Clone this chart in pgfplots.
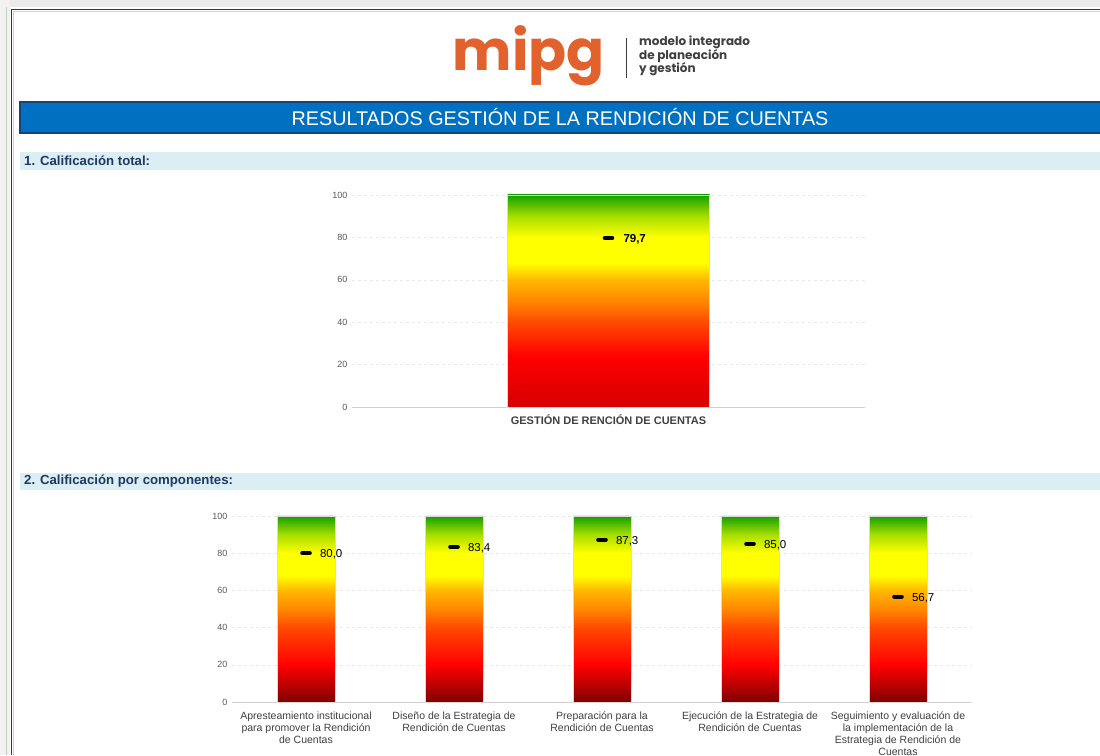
\documentclass[border=0pt]{standalone}
\usepackage{pgfplots}
\pgfplotsset{compat=1.18}
\usepackage{fontspec}
\setmainfont{Liberation Sans}
\newfontfamily\poppins{Poppins}
\definecolor{navy}{HTML}{1F3864}
\definecolor{hdrblue}{HTML}{0070C0}
\definecolor{secblue}{HTML}{DAEEF3}
\definecolor{mipgorange}{HTML}{E2622E}
\definecolor{logogrey}{HTML}{404040}
\definecolor{ticktext}{HTML}{595959}
\definecolor{labtext}{HTML}{404040}
% chart 1 gradient
\definecolor{aA}{HTML}{D60000}
\definecolor{aB}{HTML}{FF0000}
\definecolor{aC}{HTML}{FF4A00}
\definecolor{aD}{HTML}{FF8800}
\definecolor{aE}{HTML}{FFB800}
\definecolor{aF}{HTML}{FFFF00}
\definecolor{aG}{HTML}{A8DE00}
\definecolor{aH}{HTML}{14A000}
% chart 2 gradient
\definecolor{bA}{HTML}{7F0000}
\definecolor{bB}{HTML}{C00000}
\definecolor{bC}{HTML}{FF0000}
\pgfdeclareverticalshading{barA}{100bp}{color(0bp)=(aA); color(25bp)=(aA); color(37bp)=(aB); color(45bp)=(aC); color(50bp)=(aD); color(55bp)=(aE); color(59bp)=(aF); color(65bp)=(aF); color(70bp)=(aG); color(75bp)=(aH); color(100bp)=(aH)}
\pgfdeclareverticalshading{barB}{100bp}{color(0bp)=(bA); color(25bp)=(bA); color(30bp)=(bB); color(35bp)=(bC); color(45bp)=(aC); color(50bp)=(aD); color(55bp)=(aE); color(59bp)=(aF); color(65bp)=(aF); color(70bp)=(aG); color(75bp)=(aH); color(100bp)=(aH)}
\begin{document}
\begin{tikzpicture}[x=1pt,y=1pt]
\useasboundingbox (0,0) rectangle (1100,755);
\clip (0,0) rectangle (1100,755);
\fill[white] (0,0) rectangle (1100,755);
% frame decorations
\fill[black!8] (0,748) rectangle (1100,755);
\fill[black!5] (0,0) rectangle (10,755);
\draw[green!30!black!25, line width=0.8] (6,0) -- (6,748);
\draw[navy, line width=1.6] (11.5,0) -- (11.5,745.5) -- (1100,745.5);
\draw[blue!20, line width=0.6] (13.2,0) -- (13.2,743.8) -- (1100,743.8);
% logo
\node[mipgorange, inner sep=0] at (529,699) {\resizebox{152pt}{!}{\poppins\bfseries mipg}};
\draw[logogrey, line width=0.9] (626,717) -- (626,677);
\node[anchor=west, align=left, inner sep=0, text=logogrey, font=\poppins\bfseries\fontsize{12}{13.5}\selectfont] at (639,699) {modelo integrado\\de planeación\\y gestión};
% header
\fill[hdrblue] (20,622) rectangle (1100,653);
\draw[navy!80!hdrblue, line width=1.2] (20,622) rectangle (1101,653);
\node[white, font=\fontsize{19.8}{22}\selectfont] at (560,637.5) {RESULTADOS GESTIÓN DE LA RENDICIÓN DE CUENTAS};
% section bars
\fill[secblue] (20,585) rectangle (1100,603);
\node[anchor=west, text=navy, font=\bfseries\fontsize{13.2}{14}\selectfont, inner sep=0] at (24,594) {1. Calificación total:};
\fill[secblue] (20,265) rectangle (1100,282);
\node[anchor=west, text=navy, font=\bfseries\fontsize{13.2}{14}\selectfont, inner sep=0] at (24,273.5) {2. Calificación por componentes:};
% chart 1
\begin{axis}[at={(352pt,348pt)}, anchor=south west, scale only axis,
  width=513pt, height=212pt, xmin=-0.5, xmax=0.5, ymin=0, ymax=100,
  ytick={0,20,40,60,80,100}, xtick={0}, xticklabels={GESTIÓN DE RENCIÓN DE CUENTAS},
  axis x line*=bottom, axis y line*=left, y axis line style={draw=none},
  x axis line style={draw=black!18, line width=0.8},
  tick style={draw=none}, ymajorgrids, grid style={black!9, dashed, line width=0.5},
  /pgf/number format/assume math mode=true,
  yticklabel style={font=\fontsize{9}{10}\selectfont, text=ticktext, xshift=-1pt},
  xticklabel style={font=\bfseries\fontsize{11}{12}\selectfont, text=labtext, yshift=-4.5pt},
  clip=false]
\addplot[ybar, bar width=202pt, shading=barA, draw=red!15!black!15, line width=0.6] coordinates {(0,100)};
\addplot[only marks, mark=-, mark size=3.8, mark options={line width=4pt, line cap=round, black},
  nodes near coords={\pgfmathprintnumber[fixed,fixed zerofill,precision=1,use comma]{\pgfplotspointmeta}},
  every node near coord/.append style={anchor=west, inner sep=0, xshift=13pt, yshift=-1pt, font=\bfseries\fontsize{11.5}{13}\selectfont, text=black}]
  coordinates {(0,79.7)};
\end{axis}
% chart 2
\begin{axis}[at={(232pt,53pt)}, anchor=south west, scale only axis,
  width=740pt, height=186pt, xmin=-0.5, xmax=4.5, ymin=0, ymax=100,
  ytick={0,20,40,60,80,100}, xtick={0,1,2,3,4},
  xticklabels={{Apresteamiento institucional\\para promover la Rendición\\de Cuentas},
    {Diseño de la Estrategia de\\Rendición de Cuentas},
    {Preparación para la\\Rendición de Cuentas},
    {Ejecución de la Estrategia de\\Rendición de Cuentas},
    {Seguimiento y evaluación de\\la implementación de la\\Estrategia de Rendición de\\Cuentas}},
  axis x line*=bottom, axis y line*=left, y axis line style={draw=none},
  x axis line style={draw=black!18, line width=0.8},
  tick style={draw=none}, ymajorgrids, grid style={black!9, dashed, line width=0.5},
  /pgf/number format/assume math mode=true,
  yticklabel style={font=\fontsize{9}{10}\selectfont, text=ticktext, xshift=-1pt},
  xticklabel style={font=\fontsize{10.5}{12}\selectfont, text=labtext, align=center, yshift=-6pt},
  clip=false]
\addplot[ybar, bar width=58pt, shading=barB, draw=red!15!black!15, line width=0.6] coordinates {(0,100) (1,100) (2,100) (3,100) (4,100)};
\addplot[only marks, mark=-, mark size=3.8, mark options={line width=4pt, line cap=round, black},
  nodes near coords={\pgfmathprintnumber[fixed,fixed zerofill,precision=1,use comma]{\pgfplotspointmeta}},
  every node near coord/.append style={anchor=west, inner sep=0, xshift=12pt, yshift=-1.5pt, font=\fontsize{11.5}{13}\selectfont, text=black}]
  coordinates {(0,80.0) (1,83.4) (2,87.3) (3,85.0) (4,56.7)};
\end{axis}
\end{tikzpicture}
\end{document}
